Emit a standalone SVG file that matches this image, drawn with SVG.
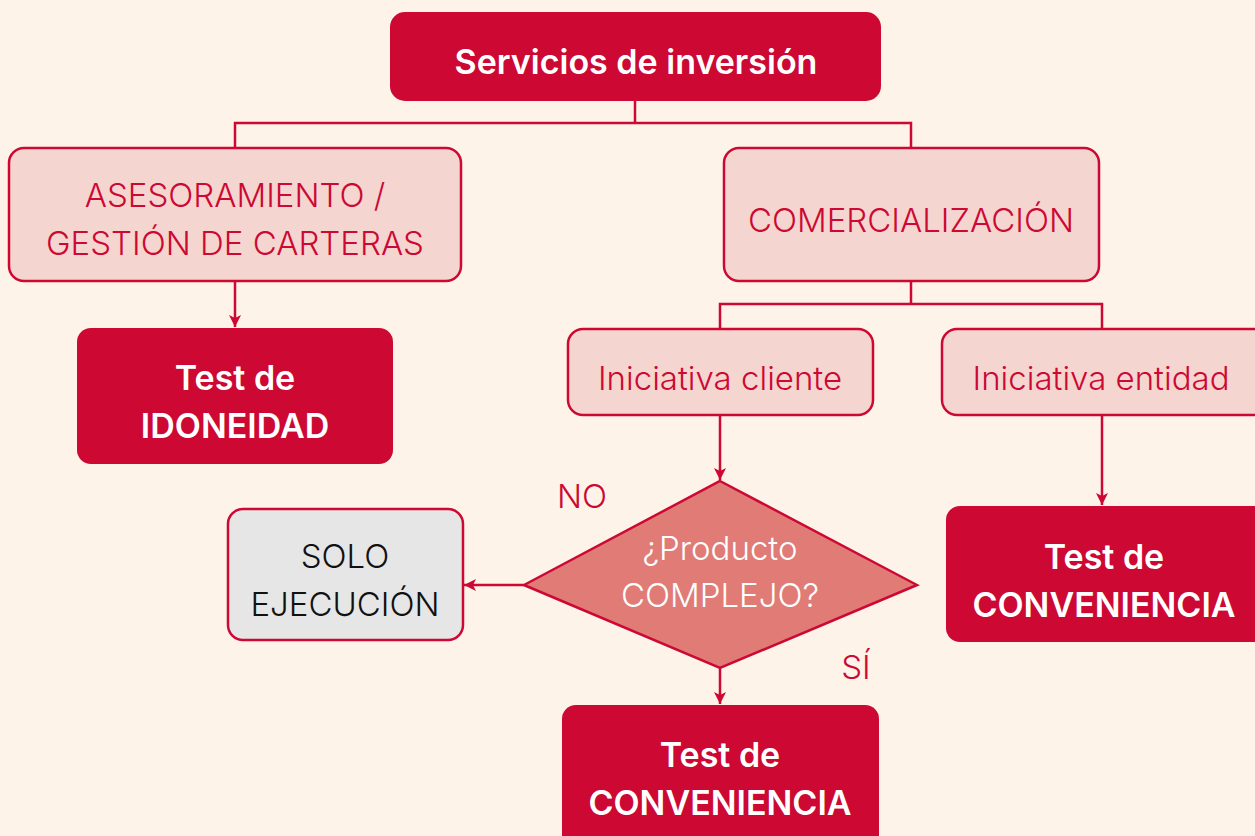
<svg xmlns="http://www.w3.org/2000/svg" width="1255" height="836" viewBox="0 0 1255 836">
<defs>
<marker id="ah" viewBox="0 0 12 12" refX="12" refY="6" markerWidth="12" markerHeight="12" markerUnits="userSpaceOnUse" orient="auto">
<path d="M0,0 L12,6 L0,12 L3,6 Z" fill="#CC0833"/>
</marker>
<style>
.dark{fill:#CC0833;}
.light{fill:#F5D5D0;stroke:#CC0833;stroke-width:2.5;}
.grey{fill:#E6E6E6;stroke:#CC0833;stroke-width:2.5;}
.bt{font-family:Inter,"Liberation Sans",sans-serif;font-weight:600;font-size:34px;fill:#FFFFFF;text-anchor:middle;}
.lt{font-family:Inter,"Liberation Sans",sans-serif;font-weight:300;font-size:33px;fill:#CC0833;text-anchor:middle;}
.conn{fill:none;stroke:#CC0833;stroke-width:2.5;}
</style>
</defs>
<rect width="1255" height="836" fill="#FDF3E9"/>
<g id="connectors">
<path class="conn" d="M635,101 V123 M235,148 V123 H911 V148"/>
<path class="conn" d="M235,281 V327" marker-end="url(#ah)"/>
<path class="conn" d="M911,281 V304 M720,329 V304 H1102 V329"/>
<path class="conn" d="M720,415 V480" marker-end="url(#ah)"/>
<path class="conn" d="M1102,415 V505" marker-end="url(#ah)"/>
<path class="conn" d="M524,585 H464" marker-end="url(#ah)"/>
<path class="conn" d="M720,668 V704" marker-end="url(#ah)"/>
</g>
<g id="servicios">
<rect class="dark" x="390" y="12" width="491" height="89" rx="15"/>
<text class="bt" x="636" y="74">Servicios de inversión</text>
</g>
<g id="asesoramiento">
<rect class="light" x="9" y="148" width="452" height="133" rx="15"/>
<text class="lt" x="235" y="207">ASESORAMIENTO /</text>
<text class="lt" x="235" y="255">GESTIÓN DE CARTERAS</text>
</g>
<g id="comercializacion">
<rect class="light" x="724" y="148" width="375" height="133" rx="15"/>
<text class="lt" x="911" y="232">COMERCIALIZACIÓN</text>
</g>
<g id="idoneidad">
<rect class="dark" x="77" y="328" width="316" height="136" rx="14"/>
<text class="bt" x="235" y="390">Test de</text>
<text class="bt" x="235" y="438">IDONEIDAD</text>
</g>
<g id="ini-cliente">
<rect class="light" x="568" y="329" width="305" height="86" rx="15"/>
<text class="lt" x="720" y="390">Iniciativa cliente</text>
</g>
<g id="ini-entidad">
<rect class="light" x="942" y="329" width="330" height="86" rx="15"/>
<text class="lt" x="1101" y="390">Iniciativa entidad</text>
</g>
<g id="decision">
<polygon points="720,481 917,585 720,668 524,585" fill="#E07B76" stroke="#CC0833" stroke-width="2.5"/>
<text class="lt" x="720" y="560" style="fill:#FFFFFF">¿Producto</text>
<text class="lt" x="720" y="607" style="fill:#FFFFFF">COMPLEJO?</text>
</g>
<g id="labels">
<text class="lt" x="582" y="508">NO</text>
<text class="lt" x="856" y="679">SÍ</text>
</g>
<g id="solo">
<rect class="grey" x="228" y="509" width="235" height="131" rx="15"/>
<text class="lt" x="345" y="568" style="fill:#111111">SOLO</text>
<text class="lt" x="345" y="616" style="fill:#111111">EJECUCIÓN</text>
</g>
<g id="conveniencia-1">
<rect class="dark" x="946" y="506" width="330" height="136" rx="14"/>
<text class="bt" x="1104" y="569">Test de</text>
<text class="bt" x="1104" y="617">CONVENIENCIA</text>
</g>
<g id="conveniencia-2">
<rect class="dark" x="562" y="705" width="317" height="150" rx="14"/>
<text class="bt" x="720" y="767">Test de</text>
<text class="bt" x="720" y="815">CONVENIENCIA</text>
</g>
</svg>
